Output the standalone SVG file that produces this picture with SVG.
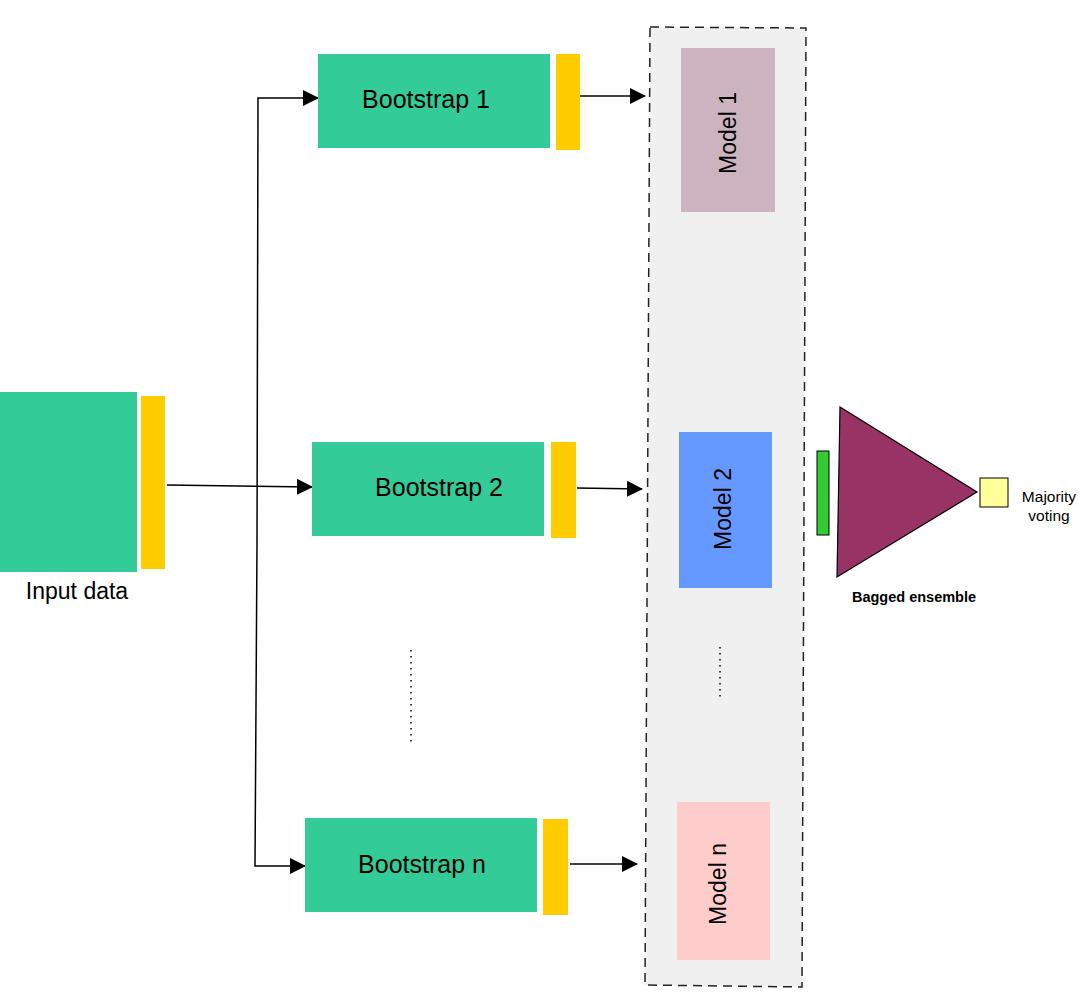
<svg xmlns="http://www.w3.org/2000/svg" width="1082" height="993" viewBox="0 0 1082 993">
<style>
.g{fill:#33cc99}
.y{fill:#ffcc00}
.t{font-family:"Liberation Sans",Arial,sans-serif;fill:#000}
.c{fill:none;stroke:#000;stroke-width:1.5}
.dot{fill:none;stroke:#000;stroke-width:1.5;stroke-dasharray:1.5 4.5}
</style>
<defs>
<marker id="ah" markerWidth="16" markerHeight="16" refX="15" refY="8" orient="auto" markerUnits="userSpaceOnUse">
<path d="M0,0 L16,8 L0,16 Z" fill="#000"/>
</marker>
</defs>
<rect width="1082" height="993" fill="#fff"/>
<g id="ensemble-box">
<polygon points="650,27 806,28 802,987 645,985" fill="#f0f0f0" stroke="#222" stroke-width="1.5" stroke-dasharray="9 6"/>
</g>
<g id="connectors">
<polyline class="c" points="257,543 258,98 318,98" marker-end="url(#ah)"/>
<polyline class="c" points="257,543 255,866 305,866" marker-end="url(#ah)"/>
<line class="c" x1="167" y1="485" x2="312" y2="487" marker-end="url(#ah)"/>
<line class="c" x1="580" y1="96" x2="645" y2="96" marker-end="url(#ah)"/>
<line class="c" x1="577" y1="488" x2="642" y2="489" marker-end="url(#ah)"/>
<line class="c" x1="570" y1="864" x2="637" y2="864" marker-end="url(#ah)"/>
<line class="dot" x1="411" y1="650" x2="411" y2="742"/>
<line class="dot" x1="720" y1="647" x2="720" y2="698"/>
</g>
<g id="input-data">
<rect class="g" x="0" y="392" width="137" height="180"/>
<rect class="y" x="141" y="396" width="24" height="173"/>
<text class="t" x="77" y="599" font-size="23" text-anchor="middle">Input data</text>
</g>
<g id="bootstrap-1">
<rect class="g" x="318" y="54" width="232" height="94"/>
<rect class="y" x="556" y="54" width="24" height="96"/>
<text class="t" x="426" y="108" font-size="25" text-anchor="middle">Bootstrap 1</text>
</g>
<g id="bootstrap-2">
<rect class="g" x="312" y="442" width="232" height="94"/>
<rect class="y" x="551" y="442" width="25" height="96"/>
<text class="t" x="439" y="496" font-size="25" text-anchor="middle">Bootstrap 2</text>
</g>
<g id="bootstrap-n">
<rect class="g" x="305" y="818" width="232" height="94"/>
<rect class="y" x="543" y="819" width="25" height="96"/>
<text class="t" x="422" y="873" font-size="25" text-anchor="middle">Bootstrap n</text>
</g>
<g id="model-1">
<rect x="681" y="48" width="94" height="164" fill="#cdb2bf"/>
<text class="t" font-size="23" text-anchor="middle" transform="translate(736,133) rotate(-90)">Model 1</text>
</g>
<g id="model-2">
<rect x="679" y="432" width="93" height="156" fill="#6699ff"/>
<text class="t" font-size="23" text-anchor="middle" transform="translate(731,509) rotate(-90)">Model 2</text>
</g>
<g id="model-n">
<rect x="677" y="802" width="93" height="158" fill="#ffcccc"/>
<text class="t" font-size="23" text-anchor="middle" transform="translate(726,884) rotate(-90)">Model n</text>
</g>
<g id="bagged-ensemble">
<rect x="817" y="451" width="12" height="84" fill="#33cc33" stroke="#000" stroke-width="1"/>
<polygon points="840,407 977,492 837,577" fill="#993366" stroke="#000" stroke-width="1.2"/>
<text class="t" x="914" y="602" font-size="14.5" font-weight="bold" text-anchor="middle">Bagged ensemble</text>
</g>
<g id="majority-voting">
<rect x="980" y="478" width="28" height="29" fill="#ffff99" stroke="#000" stroke-width="1"/>
<text class="t" x="1049" y="502" font-size="15.5" text-anchor="middle">Majority</text>
<text class="t" x="1049" y="521" font-size="15.5" text-anchor="middle">voting</text>
</g>
</svg>
